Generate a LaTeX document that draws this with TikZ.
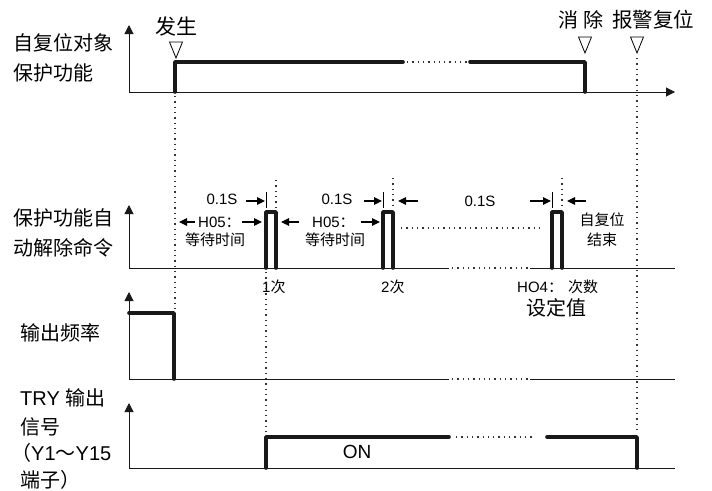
\documentclass[tikz,border=0pt]{standalone}
\usepackage{fontspec}
\setmainfont{Liberation Sans}
\newfontfamily\cjk{Noto Sans CJK SC}
\usetikzlibrary{arrows.meta}
\begin{document}
\begin{tikzpicture}[x=1pt,y=-1pt,
  axis/.style={line width=1pt, black!90},
  axisarrow/.style={axis, -{Triangle[length=9pt,width=9pt]}},
  sig/.style={line width=3.6pt, line join=round, line cap=round, black!90},
  dots/.style={line width=1.3pt, dash pattern=on 1.3pt off 4pt, black!80},
  big/.style={font=\fontsize{20}{24}\selectfont\cjk, inner sep=0pt},
  bigl/.style={font=\fontsize{20}{24}\selectfont, inner sep=0pt},
  small/.style={font=\fontsize{15}{18}\selectfont, inner sep=0pt},
  smallc/.style={font=\fontsize{15}{18}\selectfont\cjk, inner sep=0pt},
  dimarrow/.style={line width=1.1pt, -{Triangle[length=8pt,width=7.5pt]}},
  tick/.style={line width=1pt},
  downtri/.pic={\draw[line width=0.8pt, line join=miter] (-6.5,0) -- (6.5,0) -- (0,16) -- cycle;}
]
\useasboundingbox (0,0) rectangle (712,490);

% ---------- left labels ----------
\node[big, anchor=west] (l1a) at (13,43) {自复位对象};
\node[big, anchor=west] (l1b) at (13,73) {保护功能};
\node[big, anchor=west] (l2a) at (13,218) {保护功能自};
\node[big, anchor=west] (l2b) at (13,248) {动解除命令};
\node[big, anchor=west] (l3) at (20,333) {输出频率};
\node[bigl, anchor=west] (l4a) at (20,398) {TRY {\cjk 输出}};
\node[big, anchor=west] (l4b) at (20,427) {信号};
\node[bigl, anchor=west] (l4c) at (11,453) {{\cjk （}Y1{\cjk ～}Y15};
\node[big, anchor=west] (l4d) at (20,480) {端子）};

% ---------- top markers ----------
\node[font=\fontsize{21}{24}\selectfont\cjk, inner sep=0pt] (t1) at (176,27) {发生};
\node[big] (t2) at (581,20) {消 除};
\node[font=\fontsize{20.5}{24}\selectfont\cjk, inner sep=0pt] (t3) at (653,20) {报警复位};
\pic at (176,42) {downtri};
\pic at (585,37) {downtri};
\pic at (637,37) {downtri};

% ---------- panel 1 ----------
\coordinate (o1) at (129,92);
\coordinate (y1) at (129,25);
\coordinate (x1) at (675,92);
\draw[axisarrow] (o1) -- (y1);
\draw[axisarrow] (o1) -- (x1);
\draw[sig] (175,92) -- (175,62) -- (403,62);
\draw[dots] (407,62) -- (468,62);
\draw[sig] (470,62) -- (585,62) -- (585,92);

% ---------- panel 2 ----------
\coordinate (o2) at (129,268);
\coordinate (y2) at (129,205);
\draw[axisarrow] (o2) -- (y2);
\draw[axis] (o2) -- (449,268);
\draw[dots] (452,268) -- (528,268);
\draw[axis] (530,268) -- (675,268);
\draw[sig] (266,268) -- (266,212) -- (276,212) -- (276,268);
\draw[sig] (383,268) -- (383,212) -- (393,212) -- (393,268);
\draw[sig] (552,268) -- (552,212) -- (562,212) -- (562,268);
\draw[dots] (401,228) -- (540,228);

% dimension marks
\draw[dots] (276,180) -- (276,209);
\draw[dots] (393,178) -- (393,209);
\draw[dots] (562,178) -- (562,209);
\draw[tick] (266,192) -- (266,208);
\draw[tick] (383,192) -- (383,208);
\draw[tick] (552,192) -- (552,208);
\draw[dimarrow] (246,201) -- (265,201);
\draw[dimarrow] (364,201) -- (382,201);
\draw[dimarrow] (418,201) -- (398,201);
\draw[dimarrow] (530,201) -- (551,201);
\draw[dimarrow] (586,201) -- (567,201);
\draw[dimarrow] (195,222) -- (179,222);
\draw[dimarrow] (242,222) -- (262,222);
\draw[dimarrow] (299,222) -- (281,222);
\draw[dimarrow] (361,222) -- (380,222);

\node[small] (d1) at (222,199) {0.1S};
\node[small] (d2) at (337,199) {0.1S};
\node[small] (d3) at (480,201) {0.1S};
\node[small, anchor=west] (h1) at (198,222) {H05{\cjk ：}};
\node[small, anchor=west] (h2) at (312,222) {H05{\cjk ：}};
\node[smallc] (w1) at (215,240) {等待时间};
\node[smallc] (w2) at (335,240) {等待时间};
\node[smallc] (e1) at (602,220) {自复位};
\node[smallc] (e2) at (602,240) {结束};
\node[small, anchor=west] (n1) at (262,287) {1{\cjk 次}};
\node[small, anchor=west] (n2) at (381,287) {2{\cjk 次}};
\node[small, anchor=west] (n3) at (517,287) {HO4{\cjk ：}};
\node[smallc, anchor=west] (n4) at (568,287) {次数};
\node[big] (n5) at (556,308) {设定值};

% ---------- panel 3 ----------
\coordinate (o3) at (129,379);
\coordinate (y3) at (129,292);
\draw[axisarrow] (o3) -- (y3);
\draw[axis] (o3) -- (449,379);
\draw[dots] (452,379) -- (528,379);
\draw[axis] (530,379) -- (675,379);
\draw[sig] (129,313) -- (174,313) -- (174,379);

% ---------- panel 4 ----------
\coordinate (o4) at (129,468);
\coordinate (y4) at (129,403);
\draw[axisarrow] (o4) -- (y4);
\draw[axis] (o4) -- (675,468);
\draw[sig] (266,468) -- (266,437) -- (449,437);
\draw[dots] (456,437) -- (533,437);
\draw[sig] (547,437) -- (637,437) -- (637,468);
\node[font=\fontsize{19}{22}\selectfont, inner sep=0pt] (on) at (357,452) {ON};

% ---------- long dotted verticals ----------
\draw[dots] (175,96) -- (175,310);
\draw[dots] (637,58) -- (637,434);
\draw[dots] (266,272) -- (266,434);
\end{tikzpicture}
\end{document}
